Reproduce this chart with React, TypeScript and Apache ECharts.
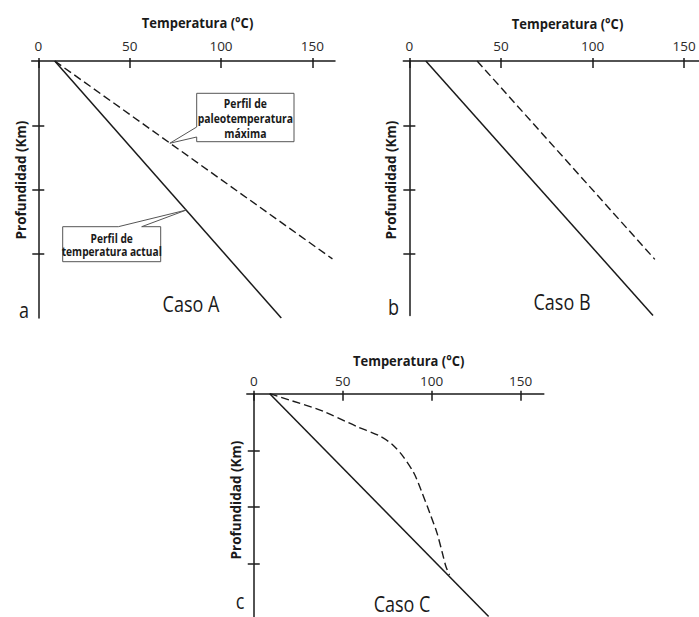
import React, { useEffect, useRef } from 'react';
import * as echarts from 'echarts';

// ---- data ----
const tempTicks = [0, 50, 100, 150];
const depthTicks = [1, 2, 3];

const aActualTemp = [9, 133];
const aActualDepth = [0, 4];
const aPaleoTemp = [9, 161];
const aPaleoDepth = [0, 3.08];

const bActualTemp = [9, 133];
const bActualDepth = [0, 3.95];
const bPaleoTemp = [37, 134];
const bPaleoDepth = [0, 3.08];

const cActualTemp = [9, 132];
const cActualDepth = [0, 3.93];
const cPaleoTemp = [9, 20, 39, 58, 71, 78, 84, 90, 94, 99, 103, 106, 108, 110];
const cPaleoDepth = [0, 0.11, 0.31, 0.58, 0.75, 0.9, 1.11, 1.4, 1.7, 2.11, 2.46, 2.81, 3.05, 3.2];

const caseNames = ['Caso A', 'Caso B', 'Caso C'];
const panelLetters = ['a', 'b', 'c'];
const xTitle = 'Temperatura (°C)';
const yTitle = 'Profundidad (Km)';
const paleoLabel = ['Perfil de', 'paleotemperatura', 'máxima'];
const actualLabel = ['Perfil de', 'temperatura actual'];
const paleoPointer = [72, 1.28];
const actualPointer = [81, 2.32];

// ---- layout ----
const panels = [
  { left: 31.7, top: 61, width: 303.3, height: 257, xMin: -3.6, xMax: 162.4, yMax: 4, labelMargin: 8,
    actual: [aActualTemp, aActualDepth], paleo: [aPaleoTemp, aPaleoDepth], smooth: false,
    title: [197.5, 22.5], ytitle: [20, 180], caso: [191, 303], letter: [24, 309] },
  { left: 403.3, top: 61, width: 295.5, height: 254.4, xMin: -3.3, xMax: 158, yMax: 3.95, labelMargin: 8,
    actual: [bActualTemp, bActualDepth], paleo: [bPaleoTemp, bPaleoDepth], smooth: false,
    title: [567.5, 23], ytitle: [390, 180], caso: [562, 301], letter: [393.5, 306] },
  { left: 246.8, top: 393.7, width: 297, height: 223.3, xMin: -3.9, xMax: 163, yMax: 3.94, labelMargin: 6,
    actual: [cActualTemp, cActualDepth], paleo: [cPaleoTemp, cPaleoDepth], smooth: 0.3,
    title: [408.7, 360], ytitle: [235, 500], caso: [402, 603], letter: [240, 600] },
];

const zip = (xs: number[], ys: number[]) => xs.map((x, i) => [x, ys[i]]);
const ink = '#1a1a1a';
const axisFont = '"Open Sans", "DejaVu Sans", sans-serif';

export default function App() {
  const ref = useRef<HTMLDivElement>(null);
  useEffect(() => {
    const chart = echarts.init(ref.current!, null, { renderer: 'svg' });
    const grid: any[] = [];
    const xAxis: any[] = [];
    const yAxis: any[] = [];
    const series: any[] = [];
    panels.forEach((p, i) => {
      grid.push({ left: p.left, top: p.top, width: p.width, height: p.height, containLabel: false });
      const xBase = {
        type: 'value', gridIndex: i, position: 'top', min: p.xMin, max: p.xMax,
        splitLine: { show: false },
      };
      xAxis.push({
        ...xBase,
        axisLine: { show: true, onZero: false, lineStyle: { color: ink, width: 1.5 } },
        axisTick: { show: true, inside: false, length: 3, customValues: tempTicks, lineStyle: { color: ink, width: 1.5 } },
        axisLabel: { show: true, customValues: tempTicks, margin: p.labelMargin, color: '#2a2a2a',
          fontFamily: axisFont, fontSize: 13.5 },
      });
      xAxis.push({
        ...xBase,
        axisLine: { show: false, onZero: false },
        axisTick: { show: true, inside: true, length: 7, customValues: tempTicks, lineStyle: { color: ink, width: 1.5 } },
        axisLabel: { show: false },
      });
      const yBase = {
        type: 'value', gridIndex: i, position: 'left', inverse: true, min: 0, max: p.yMax,
        splitLine: { show: false },
        axisLabel: { show: false },
      };
      yAxis.push({
        ...yBase,
        axisLine: { show: true, onZero: true, lineStyle: { color: ink, width: 1.5 } },
        axisTick: { show: true, inside: false, length: 6, customValues: depthTicks, lineStyle: { color: ink, width: 1.5 } },
      });
      yAxis.push({
        ...yBase,
        axisLine: { show: false, onZero: true },
        axisTick: { show: true, inside: true, length: 6, customValues: depthTicks, lineStyle: { color: ink, width: 1.5 } },
      });
      series.push({
        type: 'line', xAxisIndex: 2 * i, yAxisIndex: 2 * i, data: zip(p.actual[0], p.actual[1]),
        symbol: 'none', lineStyle: { color: ink, width: 1.5 }, silent: true,
      });
      series.push({
        type: 'line', xAxisIndex: 2 * i, yAxisIndex: 2 * i, data: zip(p.paleo[0], p.paleo[1]),
        symbol: 'none', smooth: p.smooth, lineStyle: { color: ink, width: 1.4, type: [8, 4] }, silent: true,
      });
    });

    chart.setOption({ animation: false, backgroundColor: '#ffffff', grid, xAxis, yAxis, series });

    const tipP = chart.convertToPixel({ xAxisIndex: 0, yAxisIndex: 0 }, paleoPointer) as number[];
    const tipA = chart.convertToPixel({ xAxisIndex: 0, yAxisIndex: 0 }, actualPointer) as number[];

    const graphic: any[] = [];
    panels.forEach((p, i) => {
      graphic.push({
        type: 'text', x: p.title[0], y: p.title[1], scaleY: 1.15,
        style: { text: xTitle, align: 'center', verticalAlign: 'middle', fill: ink,
          fontFamily: axisFont, fontWeight: 'bold', fontSize: 13 },
      });
      graphic.push({
        type: 'text', x: p.ytitle[0], y: p.ytitle[1], rotation: Math.PI / 2, scaleX: 1.04, scaleY: 1.1,
        style: { text: yTitle, align: 'center', verticalAlign: 'middle', fill: ink,
          fontFamily: axisFont, fontWeight: 'bold', fontSize: 13 },
      });
      graphic.push({
        type: 'text', x: p.caso[0], y: p.caso[1], scaleY: 1.25,
        style: { text: caseNames[i], align: 'center', verticalAlign: 'middle', fill: ink,
          fontFamily: axisFont, fontSize: 18 },
      });
      graphic.push({
        type: 'text', x: p.letter[0], y: p.letter[1], scaleY: 1.25,
        style: { text: panelLetters[i], align: 'center', verticalAlign: 'middle', fill: ink,
          fontFamily: axisFont, fontSize: 18 },
      });
    });

    // callout: paleotemperature (box with notch on left side)
    const b1 = { x1: 196.7, y1: 93.3, x2: 294, y2: 141.7 };
    graphic.push({
      type: 'polygon', z: 10,
      shape: { points: [[b1.x1, b1.y1], [b1.x2, b1.y1], [b1.x2, b1.y2], [b1.x1, b1.y2], [b1.x1, 137], tipP, [b1.x1, 127]] },
      style: { fill: '#ffffff', stroke: '#555555', lineWidth: 1 },
    });
    graphic.push({
      type: 'text', z: 11, x: (b1.x1 + b1.x2) / 2, y: (b1.y1 + b1.y2) / 2 + 0.5, scaleY: 1.15,
      style: { text: paleoLabel.join('\n'), align: 'center', verticalAlign: 'middle', lineHeight: 13,
        fill: ink, fontFamily: axisFont, fontWeight: 'bold', fontSize: 10.4 },
    });
    // callout: current temperature (notch on top edge)
    const b2 = { x1: 62.7, y1: 226.7, x2: 160.7, y2: 261.7 };
    graphic.push({
      type: 'polygon', z: 10,
      shape: { points: [[b2.x1, b2.y1], [118.3, b2.y1], tipA, [141.7, b2.y1], [b2.x2, b2.y1], [b2.x2, b2.y2], [b2.x1, b2.y2]] },
      style: { fill: '#ffffff', stroke: '#555555', lineWidth: 1 },
    });
    graphic.push({
      type: 'text', z: 11, x: (b2.x1 + b2.x2) / 2, y: (b2.y1 + b2.y2) / 2 + 0.5, scaleY: 1.15,
      style: { text: actualLabel.join('\n'), align: 'center', verticalAlign: 'middle', lineHeight: 11.5,
        fill: ink, fontFamily: axisFont, fontWeight: 'bold', fontSize: 10.2 },
    });

    chart.setOption({ graphic });
    return () => chart.dispose();
  }, []);
  return <div ref={ref} style={{ position: 'absolute', left: 0, top: 0, width: 699, height: 617 }} />;
}
